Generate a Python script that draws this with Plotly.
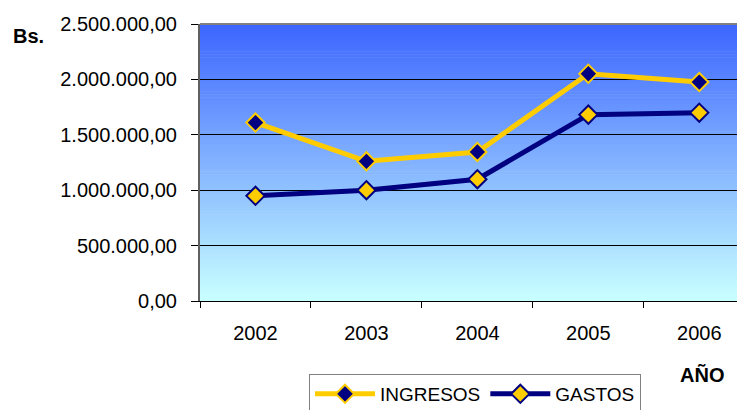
import plotly.graph_objects as go

years = ["2002", "2003", "2004", "2005", "2006"]
ingresos = [1610000, 1261000, 1345000, 2051000, 1976000]
gastos = [949000, 1000000, 1099000, 1682000, 1700000]
y_ticks = [0, 500000, 1000000, 1500000, 2000000, 2500000]

fig = go.Figure()

# gradient background bands
n = 90
top = (0x3D, 0x66, 0xFF)
bot = (0xC8, 0xFF, 0xFF)
shapes = []
for i in range(n):
    t = i / (n - 1)
    c = tuple(round(bot[k] + (top[k] - bot[k]) * t) for k in range(3))
    shapes.append(dict(type="rect", xref="x domain", yref="y domain",
                       x0=0, x1=1, y0=i / n, y1=(i + 1) / n + 0.002,
                       fillcolor="rgb(%d,%d,%d)" % c, line=dict(width=0),
                       layer="below"))
# grey top border of plot area
shapes.append(dict(type="line", xref="x domain", yref="y domain",
                   x0=0, x1=1, y0=1, y1=1, line=dict(color="#808080", width=2),
                   layer="above"))

fig.add_trace(go.Scatter(
    x=years, y=ingresos, name="INGRESOS", mode="lines+markers",
    line=dict(color="#FFCC00", width=5),
    marker=dict(symbol="diamond", size=14, color="#000080",
                line=dict(color="#FFCC00", width=2))))
fig.add_trace(go.Scatter(
    x=years, y=gastos, name="GASTOS", mode="lines+markers",
    line=dict(color="#000080", width=5),
    marker=dict(symbol="diamond", size=14, color="#FFCC00",
                line=dict(color="#000080", width=2))))

font = "Liberation Sans, Arial, sans-serif"
L, R, T, B = 200, 1, 24, 109
PW, PH = 738 - L - R, 410 - T - B


def px2paper(px, py):
    return (px - L) / PW, (410 - B - py) / PH


bx, by = px2paper(28, 36)
ax_, ay_ = px2paper(702, 375)
lx, ly = px2paper(309, 374)

fig.update_layout(
    width=738, height=410,
    margin=dict(l=L, r=R, t=T, b=B, autoexpand=False),
    paper_bgcolor="white", plot_bgcolor="rgba(0,0,0,0)",
    separators=",.",
    font=dict(family=font, size=20, color="black"),
    shapes=shapes,
    showlegend=True,
    legend=dict(orientation="h", x=lx, xanchor="left", y=ly, yanchor="top",
                bordercolor="#808080", borderwidth=1, bgcolor="white",
                font=dict(size=19), itemwidth=60, tracegroupgap=0),
    annotations=[
        dict(text="<b>Bs.</b>", x=bx, y=by, xref="paper", yref="paper",
             showarrow=False, xanchor="center", yanchor="middle",
             font=dict(size=20)),
        dict(text="<b>AÑO</b>", x=ax_, y=ay_, xref="paper", yref="paper",
             showarrow=False, xanchor="center", yanchor="middle",
             font=dict(size=20)),
    ],
)

fig.update_xaxes(
    type="category", range=[-0.5, 4.34], showgrid=False,
    showline=True, linecolor="black", linewidth=1,
    ticks="outside", tickson="boundaries", ticklen=6, tickcolor="black",
    tickfont=dict(size=20), ticklabelstandoff=14, zeroline=False)
fig.update_yaxes(
    range=[0, 2500000], tickvals=y_ticks, tickformat=",.2f",
    showgrid=True, gridcolor="black", gridwidth=1,
    showline=True, linecolor="#606060", linewidth=2,
    ticks="outside", ticklen=7, tickcolor="black",
    tickfont=dict(size=20), ticklabelstandoff=10, zeroline=False)

fig.write_html("out.html")
